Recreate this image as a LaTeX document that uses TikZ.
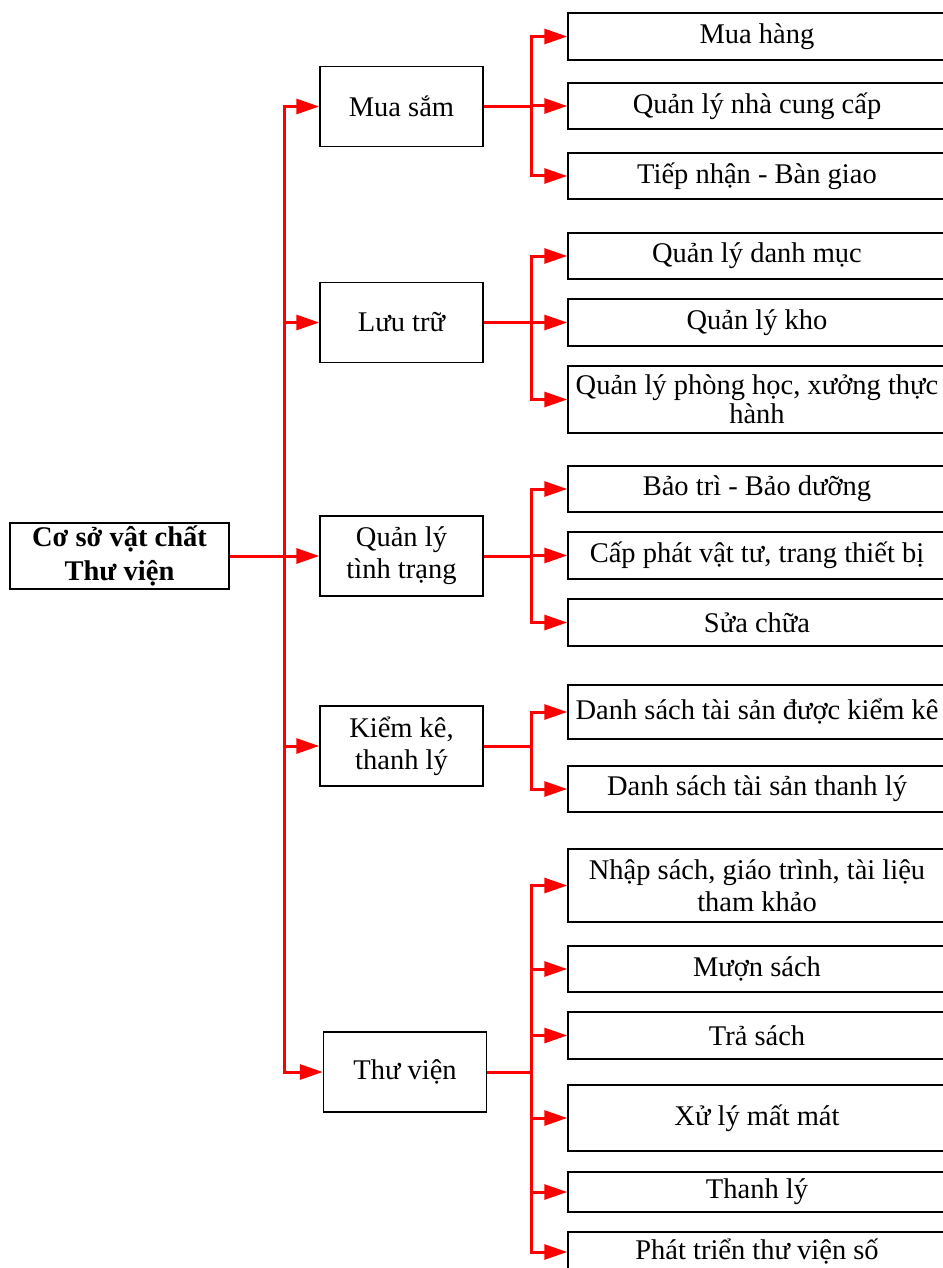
\documentclass[tikz,border=0pt]{standalone}
\usepackage{fontspec}
\setmainfont{Liberation Serif}
\usetikzlibrary{arrows.meta}
\tikzset{
  box/.style={draw, line width=1.5pt, inner sep=0pt, align=center,
    font=\fontsize{28.5}{32}\selectfont},
  leaf/.style={box, minimum width=378pt},
  mid/.style={box, minimum width=163pt, minimum height=80pt},
  link/.style={draw=red, line width=3pt, -{Triangle[length=23pt,width=15pt]}}
}
\begin{document}
\begin{tikzpicture}[x=1pt,y=-1pt]
  \useasboundingbox (0,0) rectangle (942,1268);
  % root
  \node[box, minimum width=219pt, minimum height=66pt, font=\fontsize{28.5}{34}\selectfont\bfseries]
    at (119.5,556) (root) {Cơ sở vật chất\\Thư viện};
  % second level
  \node[mid] at (401.5,106.5) (ms) {Mua sắm};
  \node[mid] at (401.5,322.5) (lt) {Lưu trữ};
  \node[mid] at (401.5,556) (qt) {Quản lý\\tình trạng};
  \node[mid] at (401.5,746) (kk) {Kiểm kê,\\thanh lý};
  \node[mid] at (405,1072) (tv) {Thư viện};
  % leaves
  \node[leaf, minimum height=47pt] at (757,36.5) (mh) {Mua hàng};
  \node[leaf, minimum height=46pt] at (757,106) (ncc) {Quản lý nhà cung cấp};
  \node[leaf, minimum height=46pt] at (757,176) (tnbg) {Tiếp nhận - Bàn giao};
  \node[leaf, minimum height=46pt] at (757,256) (dm) {Quản lý danh mục};
  \node[leaf, minimum height=47pt] at (757,322.5) (kho) {Quản lý kho};
  \node[leaf, minimum height=67pt, font=\fontsize{28.5}{29}\selectfont] at (757,399.5) (ph) {Quản lý phòng học, xưởng thực\\hành};
  \node[leaf, minimum height=46pt] at (757,489) (bt) {Bảo trì - Bảo dưỡng};
  \node[leaf, minimum height=47pt] at (757,555.5) (cp) {Cấp phát vật tư, trang thiết bị};
  \node[leaf, minimum height=47pt] at (757,622.5) (sc) {Sửa chữa};
  \node[leaf, minimum height=54pt] at (757,712) (dskk) {Danh sách tài sản được kiểm kê};
  \node[leaf, minimum height=46pt] at (757,789) (dstl) {Danh sách tài sản thanh lý};
  \node[leaf, minimum height=73pt] at (757,885.5) (ns) {Nhập sách, giáo trình, tài liệu\\tham khảo};
  \node[leaf, minimum height=46pt] at (757,969) (mu) {Mượn sách};
  \node[leaf, minimum height=47pt] at (757,1035.5) (tr) {Trả sách};
  \node[leaf, minimum height=66pt] at (757,1118) (xl) {Xử lý mất mát};
  \node[leaf, minimum height=40pt] at (757,1192) (th) {Thanh lý};
  \node[leaf, minimum height=40pt] at (757,1252) (pt) {Phát triển thư viện số};
  % trunk and branch points
  \coordinate (t0) at (284,556);
  \coordinate (b1) at (531,106.5);
  \coordinate (b2) at (531,322.5);
  \coordinate (b3) at (531,556);
  \coordinate (b4) at (531,746);
  \coordinate (b5) at (531,1072);
  \draw[link] (root.east) -- (qt.west);
  \foreach \n in {ms,lt,kk,tv}
    \draw[link] (t0) |- (\n.west);
  \foreach \n in {mh,ncc,tnbg}
    \draw[link] (ms.east) -- (b1) |- (\n.west);
  \foreach \n in {dm,kho,ph}
    \draw[link] (lt.east) -- (b2) |- (\n.west);
  \foreach \n in {bt,cp,sc}
    \draw[link] (qt.east) -- (b3) |- (\n.west);
  \foreach \n in {dskk,dstl}
    \draw[link] (kk.east) -- (b4) |- (\n.west);
  \foreach \n in {ns,mu,tr,xl,th,pt}
    \draw[link] (tv.east) -- (b5) |- (\n.west);
\end{tikzpicture}
\end{document}
